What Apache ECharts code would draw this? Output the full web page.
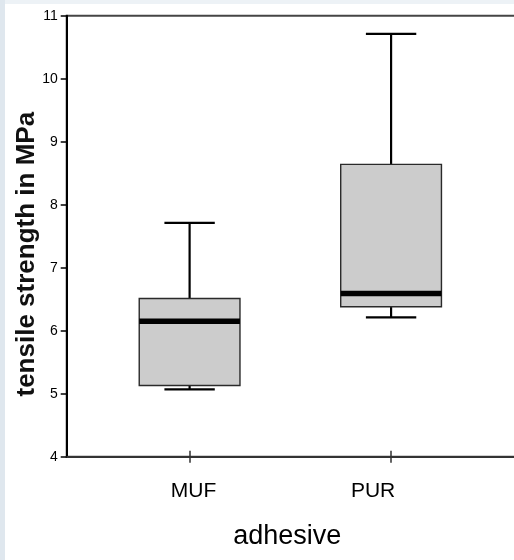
<!DOCTYPE html>
<html>
<head>
<meta charset="utf-8">
<script src="https://cdn.jsdelivr.net/npm/echarts@6/dist/echarts.min.js"></script>
<style>
  html, body { margin: 0; padding: 0; }
  body {
    width: 514px; height: 560px;
    background:
      linear-gradient(to right, #dfe7ee 0, #dfe7ee 5px, transparent 5px),
      linear-gradient(to bottom, #edf2f6 0, #edf2f6 4px, #ffffff 4px);
  }
  #box06 { position: absolute; left: 0; top: 0; width: 514px; height: 560px; }
</style>
</head>
<body>
<div id="box06"></div>
<script>
  // adhesive groups
  const categories = ['MUF', 'PUR'];
  // five number summary per group (MPa)
  const whiskerLow  = [5.07, 6.21];
  const quart1      = [5.13, 6.38];
  const medians     = [6.15, 6.59];
  const quart3      = [6.51, 8.64];
  const whiskerHigh = [7.71, 10.71];
  const yTicks = [4, 5, 6, 7, 8, 9, 10, 11];

  const boxData = categories.map((c, i) =>
    [i + 1, whiskerLow[i], quart1[i], medians[i], quart3[i], whiskerHigh[i]]);
  const catPos = categories.map((c, i) => i + 1);

  let chart = echarts.init(document.getElementById('box06'), null, {renderer: 'canvas'});

  function renderBox(params, api) {
    const x = api.value(0);
    const unit = api.size([1, 0])[0];
    const half = unit * 0.25;
    const cap = unit * 0.125;
    const pMin = api.coord([x, api.value(1)]);
    const pQ1 = api.coord([x, api.value(2)]);
    const pMed = api.coord([x, api.value(3)]);
    const pQ3 = api.coord([x, api.value(4)]);
    const pMax = api.coord([x, api.value(5)]);
    const cx = pMed[0];
    const lineSt = {stroke: '#000', lineWidth: 2.2};
    return {
      type: 'group',
      children: [
        {type: 'line', shape: {x1: cx, y1: pQ3[1], x2: cx, y2: pMax[1]}, style: lineSt},
        {type: 'line', shape: {x1: cx - cap, y1: pMax[1], x2: cx + cap, y2: pMax[1]}, style: lineSt},
        {type: 'line', shape: {x1: cx, y1: pQ1[1], x2: cx, y2: pMin[1]}, style: lineSt},
        {type: 'line', shape: {x1: cx - cap, y1: pMin[1], x2: cx + cap, y2: pMin[1]}, style: lineSt},
        {type: 'rect', shape: {x: cx - half, y: pQ3[1], width: half * 2, height: pQ1[1] - pQ3[1]},
          style: {fill: '#cccccc', stroke: '#2a2a2a', lineWidth: 1.4}},
        {type: 'line', shape: {x1: cx - half, y1: pMed[1], x2: cx + half, y2: pMed[1]},
          style: {stroke: '#000', lineWidth: 5.5}}
      ]
    };
  }

  let option = {
    animation: false,
    grid: {
      left: 66.7,
      right: -2,
      top: 15.7,
      bottom: 103.3,
      containLabel: false,
      outerBoundsMode: 'none',
      show: true,
      borderColor: '#454545',
      borderWidth: 2,
      backgroundColor: 'transparent'
    },
    xAxis: [{
      type: 'value',
      min: 0.39,
      max: 2.62,
      position: 'bottom',
      splitLine: {show: false},
      name: 'adhesive',
      nameLocation: 'middle',
      nameGap: 66,
      nameMoveOverlap: false,
      nameTextStyle: {
        fontFamily: 'Liberation Sans, Arial, sans-serif',
        fontSize: 27,
        color: '#000',
        padding: [0, 8, 0, 0]
      },
      axisLine: {onZero: false, lineStyle: {color: '#333', width: 2}},
      axisTick: {show: true, length: 6, customValues: catPos, lineStyle: {color: '#333', width: 1.5}},
      axisLabel: {
        customValues: catPos,
        margin: 24,
        formatter: function (v) {
          const i = Math.round(v) - 1;
          return '{c' + i + '|' + categories[i] + '}';
        },
        rich: {
          c0: {fontFamily: 'Liberation Sans, Arial, sans-serif', fontSize: 21, color: '#000', padding: [0, 0, 0, 8]},
          c1: {fontFamily: 'Liberation Sans, Arial, sans-serif', fontSize: 21, color: '#000', padding: [0, 36, 0, 0]}
        }
      }
    }, {
      type: 'value',
      min: 0.39,
      max: 2.62,
      position: 'bottom',
      splitLine: {show: false},
      axisLine: {show: false, onZero: false},
      axisTick: {show: true, inside: true, length: 6, customValues: catPos, lineStyle: {color: '#333', width: 1.5}},
      axisLabel: {show: false}
    }],
    yAxis: {
      type: 'value',
      min: yTicks[0],
      max: yTicks[yTicks.length - 1],
      interval: 1,
      splitLine: {show: false},
      name: 'tensile strength in MPa',
      nameLocation: 'middle',
      nameGap: 27,
      nameMoveOverlap: false,
      nameTextStyle: {
        fontFamily: 'Liberation Sans, Arial, sans-serif',
        fontSize: 26,
        fontWeight: 'bold',
        color: '#111',
        padding: [0, 36, 0, 0]
      },
      axisLine: {show: true, onZero: false, lineStyle: {color: '#000', width: 2}},
      axisTick: {show: true, length: 6, lineStyle: {color: '#000', width: 1.5}},
      axisLabel: {
        margin: 9,
        fontFamily: 'Liberation Sans, Arial, sans-serif',
        fontSize: 14,
        color: '#000'
      }
    },
    series: [{
      name: 'tensile strength',
      type: 'custom',
      xAxisIndex: 0,
      yAxisIndex: 0,
      renderItem: renderBox,
      encode: {x: 0, y: [1, 2, 3, 4, 5]},
      data: boxData
    }]
  };
  chart.setOption(option);
</script>
</body>
</html>
